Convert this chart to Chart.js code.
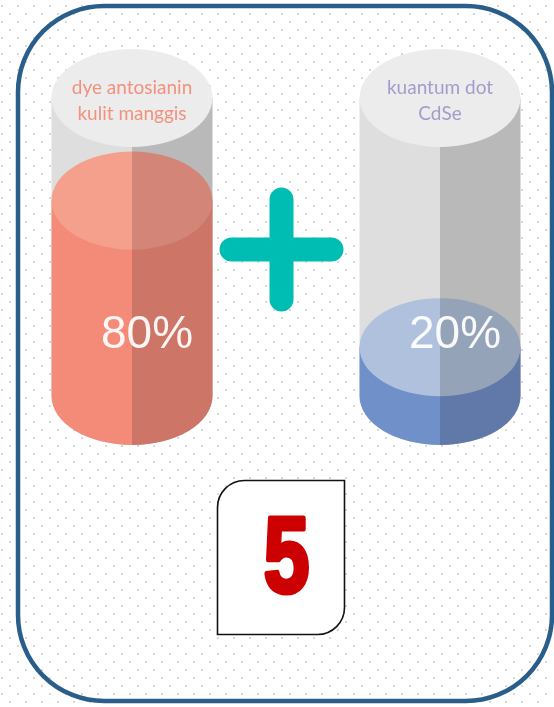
<!DOCTYPE html>
<html>
<head>
<meta charset="utf-8">
<script src="https://cdn.jsdelivr.net/npm/chart.js@4/dist/chart.umd.min.js"></script>
<style>
  html, body { margin: 0; padding: 0; background: #fff; }
  #wrap { width: 554px; height: 707px; position: relative; }
</style>
</head>
<body>
<div id="wrap"><canvas id="chart"></canvas></div>
<script>
// Two ingredients and their share in the mix
const labels = ['dye antosianin kulit manggis', 'kuantum dot CdSe'];
const labelLines = [['dye antosianin', 'kulit manggis'], ['kuantum dot', 'CdSe']];
const values = [80, 20];
const axisMax = 122;
const cardNumber = '5';

// Colours for each cylinder: [left half, right half]
const bodyColors = [['#f48b79', '#cd7566'], ['#7090c9', '#6179a9']];
const lidColors = [['#f5a08c', '#d38677'], ['#b0c1de', '#95a3b9']];
const labelColors = ['#f2917c', '#a29ccc'];

const RY = 49; // vertical radius of the ellipses

function halfFill(ctx, cx, rx, side, color, pathFn) {
    ctx.save();
    ctx.beginPath();
    if (side === 0) ctx.rect(cx - rx - 2, 0, rx + 2, 2000);
    else ctx.rect(cx, 0, rx + 2, 2000);
    ctx.clip();
    ctx.beginPath();
    pathFn();
    ctx.fillStyle = color;
    ctx.fill();
    ctx.restore();
}

function bodyPath(ctx, cx, rx, y1, y2) {
    ctx.moveTo(cx - rx, y1);
    ctx.lineTo(cx - rx, y2);
    ctx.ellipse(cx, y2, rx, RY, 0, Math.PI, 0, true);
    ctx.lineTo(cx + rx, y1);
    ctx.closePath();
}

function roundRect(ctx, x, y, w, h, r) {
    // r: [tl, tr, br, bl]
    ctx.beginPath();
    ctx.moveTo(x + r[0], y);
    ctx.lineTo(x + w - r[1], y);
    ctx.arcTo(x + w, y, x + w, y + r[1], r[1]);
    ctx.lineTo(x + w, y + h - r[2]);
    ctx.arcTo(x + w, y + h, x + w - r[2], y + h, r[2]);
    ctx.lineTo(x + r[3], y + h);
    ctx.arcTo(x, y + h, x, y + h - r[3], r[3]);
    ctx.lineTo(x, y + r[0]);
    ctx.arcTo(x, y, x + r[0], y, r[0]);
    ctx.closePath();
}

const cylinderPlugin = {
    id: 'cylinders',
    beforeDraw(chart) {
        const ctx = chart.ctx;
        ctx.save();
        ctx.fillStyle = '#ffffff';
        ctx.fillRect(0, 0, chart.width, chart.height);

        // dotted paper
        ctx.fillStyle = '#d9d9d9';
        for (let y = 6; y < chart.height; y += 8) {
            const startX = (y % 16 === 6) ? 2 : 10;
            for (let x = startX; x < chart.width; x += 16) {
                ctx.fillRect(x - 1, y - 1, 2, 2);
            }
        }

        // frame
        roundRect(ctx, 18, 6, 534, 695, [86, 86, 86, 86]);
        ctx.lineWidth = 4.5;
        ctx.strokeStyle = '#285e89';
        ctx.stroke();
        ctx.restore();
    },
    afterDatasetsDraw(chart) {
        const ctx = chart.ctx;
        const area = chart.chartArea;
        const meta = chart.getDatasetMeta(0);

        meta.data.forEach((bar, i) => {
            const cx = bar.x;
            const rx = bar.width / 2;
            const yTop = area.top;
            const yFill = bar.y;
            const yBase = bar.base;

            ctx.save();
            // empty tube
            halfFill(ctx, cx, rx, 0, '#dedede', () => bodyPath(ctx, cx, rx, yTop, yBase));
            halfFill(ctx, cx, rx, 1, '#b9b9b9', () => bodyPath(ctx, cx, rx, yTop, yBase));

            // liquid
            halfFill(ctx, cx, rx, 0, bodyColors[i][0], () => bodyPath(ctx, cx, rx, yFill, yBase));
            halfFill(ctx, cx, rx, 1, bodyColors[i][1], () => bodyPath(ctx, cx, rx, yFill, yBase));
            halfFill(ctx, cx, rx, 0, lidColors[i][0], () => ctx.ellipse(cx, yFill, rx, RY, 0, 0, Math.PI * 2));
            halfFill(ctx, cx, rx, 1, lidColors[i][1], () => ctx.ellipse(cx, yFill, rx, RY, 0, 0, Math.PI * 2));

            // lid of the tube
            ctx.beginPath();
            ctx.ellipse(cx, yTop, rx, RY, 0, 0, Math.PI * 2);
            ctx.fillStyle = '#ececec';
            ctx.fill();

            // name on the lid
            ctx.fillStyle = labelColors[i];
            ctx.font = '19px Lato, "DejaVu Sans", sans-serif';
            ctx.textAlign = 'center';
            ctx.textBaseline = 'middle';
            labelLines[i].forEach((line, k) => {
                ctx.fillText(line, cx, yTop - 10 + k * 26);
            });

            // percentage
            ctx.fillStyle = 'rgba(255,255,255,0.93)';
            ctx.font = '46px "Liberation Sans", Arial, sans-serif';
            ctx.fillText(values[i] + '%', cx + 15, yBase - 61);
            ctx.restore();
        });

        // plus sign between the cylinders
        const px = (meta.data[0].x + meta.data[1].x) / 2 - 4.5;
        const py = 249.5;
        ctx.save();
        ctx.strokeStyle = '#00bdb3';
        ctx.lineWidth = 24;
        ctx.lineCap = 'round';
        ctx.beginPath();
        ctx.moveTo(px, py - 50);
        ctx.lineTo(px, py + 50);
        ctx.moveTo(px - 50, py);
        ctx.lineTo(px + 50, py);
        ctx.stroke();

        // numbered card
        roundRect(ctx, 217.5, 480.5, 127, 154, [27, 0, 27, 0]);
        ctx.fillStyle = '#ffffff';
        ctx.fill();
        ctx.lineWidth = 1.6;
        ctx.strokeStyle = '#111';
        ctx.stroke();

        ctx.translate(286.5, 592);
        ctx.scale(0.76, 1);
        ctx.font = 'bold 108px "Liberation Sans", Arial, sans-serif';
        ctx.textAlign = 'center';
        ctx.textBaseline = 'alphabetic';
        ctx.fillStyle = '#cc0000';
        ctx.strokeStyle = '#cc0000';
        ctx.lineWidth = 5;
        ctx.lineJoin = 'round';
        ctx.fillText(cardNumber, 0, 0);
        ctx.strokeText(cardNumber, 0, 0);
        ctx.restore();
    }
};

new Chart(document.getElementById('chart'), {
    type: 'bar',
    data: {
        labels: labels,
        datasets: [{
            data: values,
            backgroundColor: 'rgba(0,0,0,0)',
            borderWidth: 0,
            barThickness: 161
        }]
    },
    options: {
        responsive: true,
        maintainAspectRatio: false,
        devicePixelRatio: 1,
        animation: false,
        layout: { padding: { left: 132, right: 114, top: 98, bottom: 311 } },
        plugins: { legend: { display: false }, tooltip: { enabled: false } },
        scales: {
            x: { display: false, offset: false },
            y: { display: false, min: 0, max: axisMax }
        }
    },
    plugins: [cylinderPlugin]
});
</script>
</body>
</html>
